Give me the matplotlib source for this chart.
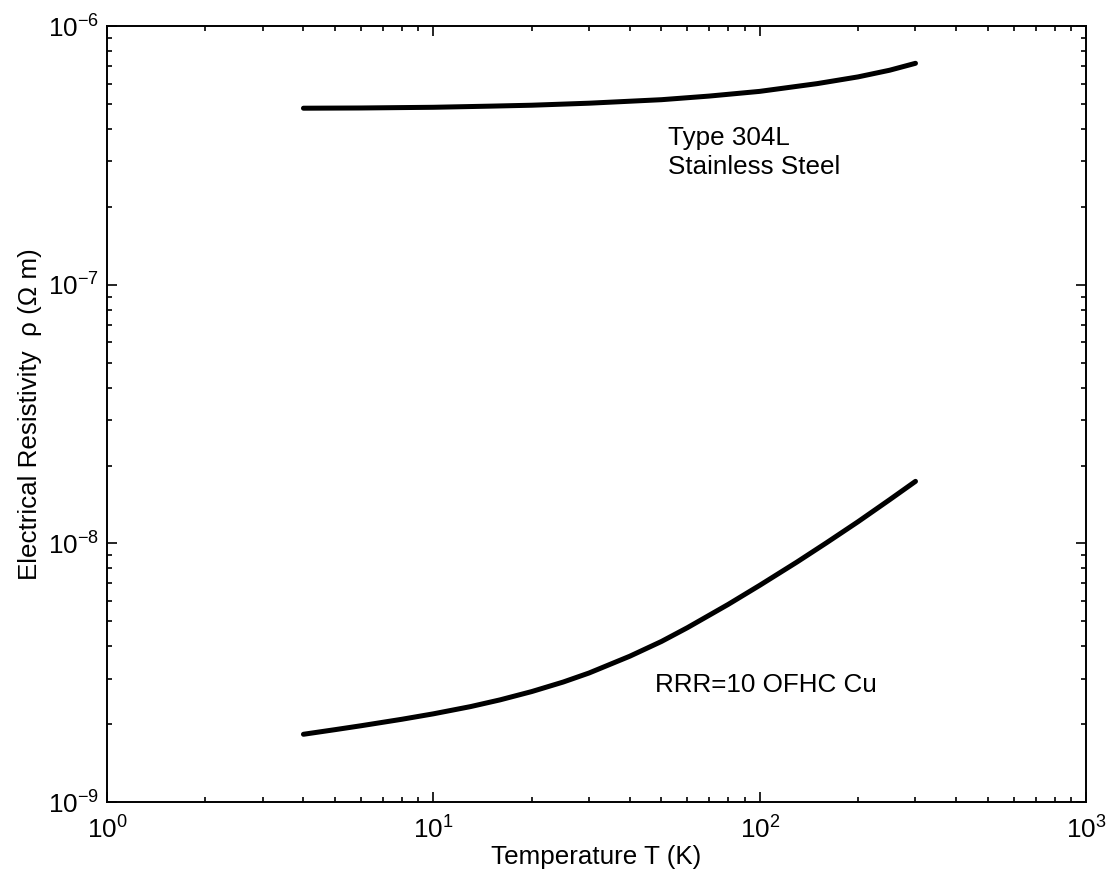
import matplotlib
matplotlib.use('Agg')
from matplotlib import pyplot as plt
from matplotlib.ticker import LogLocator, NullFormatter

plt.rcParams['font.family'] = ['Liberation Sans', 'DejaVu Sans']
plt.rcParams['mathtext.fontset'] = 'custom'
plt.rcParams['mathtext.rm'] = 'Liberation Sans'
plt.rcParams['mathtext.it'] = 'Liberation Sans:italic'
plt.rcParams['mathtext.default'] = 'regular'

# Temperature (K) sample points
steel_temps = [4, 6, 10, 15, 20, 30, 50, 70, 100, 150, 200, 250, 300]
# Type 304L stainless steel resistivity (ohm m)
steel_rho = [4.82e-7, 4.83e-7, 4.86e-7, 4.91e-7, 4.95e-7, 5.04e-7, 5.20e-7,
             5.37e-7, 5.60e-7, 6.00e-7, 6.37e-7, 6.76e-7, 7.19e-7]

cu_temps = [4, 5, 6, 8, 10, 13, 16, 20, 25, 30, 40, 50, 60, 80, 100,
            130, 160, 200, 250, 300]
# RRR=10 OFHC copper resistivity (ohm m)
cu_rho = [1.828e-9, 1.905e-9, 1.972e-9, 2.089e-9, 2.193e-9, 2.339e-9,
          2.483e-9, 2.673e-9, 2.911e-9, 3.155e-9, 3.664e-9, 4.178e-9,
          4.721e-9, 5.808e-9, 6.887e-9, 8.472e-9, 1.005e-8, 1.213e-8,
          1.476e-8, 1.738e-8]

FONT = 18.7

fig = plt.figure(figsize=(11.14, 8.75), dpi=100)
ax = fig.add_axes([0.096, 0.0834, 0.879, 0.8866])

ax.loglog(steel_temps, steel_rho, '-k', lw=3.6,
          solid_capstyle='round', solid_joinstyle='round')
ax.loglog(cu_temps, cu_rho, '-k', lw=3.6,
          solid_capstyle='round', solid_joinstyle='round')

ax.set_xlim(1, 1000)
ax.set_ylim(1e-9, 1e-6)

ax.xaxis.set_major_locator(LogLocator(base=10, numticks=10))
ax.yaxis.set_major_locator(LogLocator(base=10, numticks=10))
ax.xaxis.set_minor_locator(LogLocator(base=10, subs=range(2, 10), numticks=20))
ax.yaxis.set_minor_locator(LogLocator(base=10, subs=range(2, 10), numticks=20))
ax.xaxis.set_minor_formatter(NullFormatter())
ax.yaxis.set_minor_formatter(NullFormatter())

ax.tick_params(which='both', direction='in', top=True, right=True,
               labelsize=FONT, width=1.2, colors='black')
ax.tick_params(which='major', length=7, pad=10)
ax.tick_params(which='minor', length=3.6)
ax.tick_params(axis='y', which='major', pad=6)
for spine in ax.spines.values():
    spine.set_linewidth(1.4)

ax.set_xlabel('Temperature T (K)', fontsize=FONT, labelpad=1)
ax.set_ylabel('Electrical Resistivity  \u03c1 (\u03a9 m)', fontsize=FONT, labelpad=4)

ax.text(52.3, 4.10e-7, 'Type 304L\nStainless Steel', fontsize=FONT,
        va='top', ha='left', linespacing=1.25)
ax.text(47.7, 3.15e-9, 'RRR=10 OFHC Cu', fontsize=FONT, va='top', ha='left')

plt.savefig('out.png', dpi=100)
